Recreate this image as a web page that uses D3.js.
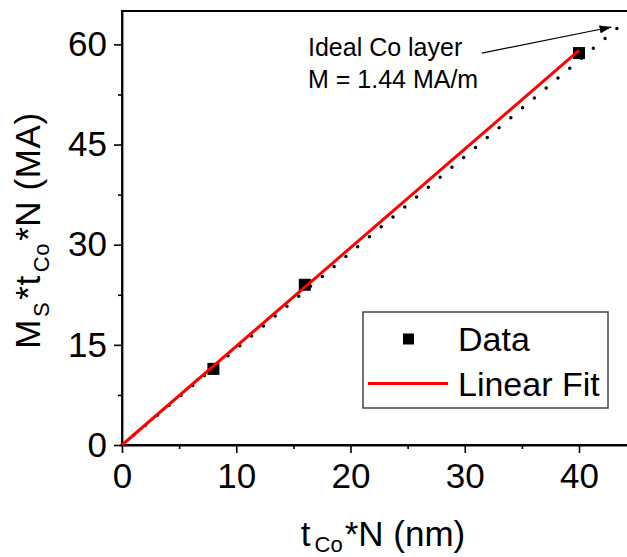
<!DOCTYPE html>
<html>
<head>
<meta charset="utf-8">
<script src="https://cdn.jsdelivr.net/npm/d3@7"></script>
<style>
  html, body { margin: 0; padding: 0; background: #fff; }
  svg { display: block; }
  text { font-family: Arial, "Liberation Sans", sans-serif; fill: #000; }
</style>
</head>
<body>
<svg id="chart" width="627" height="557"></svg>
<script>
// ---- data ----
const dataX = [8, 16, 40];
const dataY = [11.4, 24.0, 58.7];
const fitX = [0, 40];
const fitY = [0, 59.1];
const idealX = [0, 43.5];
const idealY = [0, 62.64];
const arrowX = [31.5, 42.85];
const arrowY = [58.7, 62.6];
const xTicks = [0, 10, 20, 30, 40];
const xMinor = [5, 15, 25, 35];
const yTicks = [0, 15, 30, 45, 60];
const yMinor = [7.5, 22.5, 37.5, 52.5];
const annotation = ["Ideal Co layer", "M = 1.44 MA/m"];
const legendLabels = ["Data", "Linear Fit"];

// ---- layout ----
const W = 627, H = 557;
const L = 122, R = 627, T = 11, B = 445;
const svg = d3.select("#chart");
const x = d3.scaleLinear().domain([0, 44.2]).range([L, R]);
const y = d3.scaleLinear().domain([0, 65]).range([B, T]);

// top frame line
svg.append("line").attr("x1", L - 1).attr("x2", R).attr("y1", T).attr("y2", T)
  .attr("stroke", "#000").attr("stroke-width", 1.8);

// axes
function styleAxis(g) {
  g.selectAll("path.domain").attr("stroke", "#000").attr("stroke-width", 1.8);
  g.selectAll(".tick line").attr("stroke", "#000").attr("stroke-width", 1.6);
  g.selectAll("text").style("font-size", "35px").attr("fill", "#000");
}
const gxMinor = svg.append("g").attr("transform", `translate(0,${B})`)
  .call(d3.axisBottom(x).tickValues(xMinor).tickSize(4).tickFormat("").tickSizeOuter(0));
styleAxis(gxMinor);
const gx = svg.append("g").attr("transform", `translate(0,${B})`)
  .call(d3.axisBottom(x).tickValues(xTicks).tickSize(8).tickPadding(10).tickSizeOuter(0));
styleAxis(gx);
const gyMinor = svg.append("g").attr("transform", `translate(${L},0)`)
  .call(d3.axisLeft(y).tickValues(yMinor).tickSize(4).tickFormat("").tickSizeOuter(0));
styleAxis(gyMinor);
const gy = svg.append("g").attr("transform", `translate(${L},0)`)
  .call(d3.axisLeft(y).tickValues(yTicks).tickSize(8).tickPadding(7).tickSizeOuter(0));
styleAxis(gy);
gx.select("path.domain").attr("d", `M${L - 1},0H${R}`);
gy.select("path.domain").attr("d", `M0,${T}V${B}`);

// data squares
const sq = 12;
svg.append("g").selectAll("rect").data(dataX).join("rect")
  .attr("x", (d) => x(d) - sq / 2)
  .attr("y", (d, i) => y(dataY[i]) - sq / 2)
  .attr("width", sq).attr("height", sq).attr("fill", "#000");

// ideal dotted line
const line = d3.line().x((d) => x(d[0])).y((d) => y(d[1]));
svg.append("path")
  .attr("d", line(idealX.map((d, i) => [d, idealY[i]])))
  .attr("fill", "none").attr("stroke", "#000").attr("stroke-width", 3.5)
  .attr("stroke-linecap", "round").attr("stroke-dasharray", "0 15.4");

// linear fit
svg.append("path")
  .attr("d", line(fitX.map((d, i) => [d, fitY[i]])))
  .attr("fill", "none").attr("stroke", "#ff0000").attr("stroke-width", 3);

// arrow
svg.append("defs").append("marker")
  .attr("id", "ah").attr("viewBox", "0 0 12 8").attr("refX", 12).attr("refY", 4)
  .attr("markerWidth", 12).attr("markerHeight", 8).attr("markerUnits", "userSpaceOnUse")
  .attr("orient", "auto")
  .append("path").attr("d", "M0,0L12,4L0,8Z").attr("fill", "#000");
svg.append("line")
  .attr("x1", x(arrowX[0])).attr("y1", y(arrowY[0]))
  .attr("x2", x(arrowX[1])).attr("y2", y(arrowY[1]))
  .attr("stroke", "#000").attr("stroke-width", 1.2)
  .attr("marker-end", "url(#ah)");

// annotation text
svg.append("text").attr("x", 308).attr("y", 56).style("font-size", "25px").text(annotation[0]);
svg.append("text").attr("x", 308).attr("y", 88).style("font-size", "25px").text(annotation[1]);

// legend
const lg = svg.append("g");
lg.append("rect").attr("x", 363).attr("y", 312).attr("width", 245).attr("height", 96)
  .attr("fill", "#fff").attr("stroke", "#444").attr("stroke-width", 1.5);
lg.append("rect").attr("x", 403).attr("y", 333.5).attr("width", 11).attr("height", 11).attr("fill", "#000");
lg.append("line").attr("x1", 368).attr("x2", 448).attr("y1", 383.5).attr("y2", 383.5)
  .attr("stroke", "#ff0000").attr("stroke-width", 3);
lg.append("text").attr("x", 458).attr("y", 351).style("font-size", "34px").text(legendLabels[0]);
lg.append("text").attr("x", 458).attr("y", 396).style("font-size", "34px").text(legendLabels[1]);

// x axis label
const xl = svg.append("text").attr("x", 383).attr("y", 546)
  .attr("text-anchor", "middle").style("font-size", "35px");
xl.append("tspan").text("t");
xl.append("tspan").attr("dy", 6).attr("dx", 4).style("font-size", "22px").text("Co");
xl.append("tspan").attr("dy", -6).attr("dx", 2).text("*N (nm)");

// y axis label
const yl = svg.append("text").attr("transform", "translate(40,230.5) rotate(-90)")
  .attr("text-anchor", "middle").style("font-size", "35px").style("letter-spacing", "0.6px");
yl.append("tspan").text("M");
yl.append("tspan").attr("dy", 9).attr("dx", 2).style("font-size", "22px").text("S");
yl.append("tspan").attr("dy", -9).attr("dx", 2).text("*t");
yl.append("tspan").attr("dy", 9).attr("dx", 3).style("font-size", "22px").text("Co");
yl.append("tspan").attr("dy", -9).attr("dx", 2).text("*N (MA)");
</script>
</body>
</html>
